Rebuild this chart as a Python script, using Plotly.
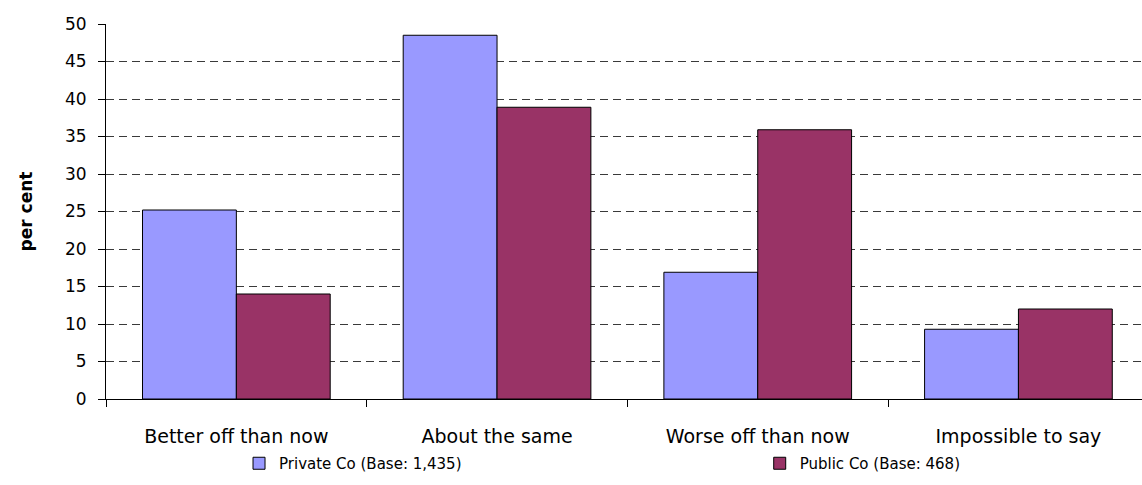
import plotly.graph_objects as go

categories = ["Better off than now", "About the same", "Worse off than now", "Impossible to say"]
private_co = [25.2, 48.5, 16.9, 9.3]
public_co = [14.0, 38.9, 35.9, 12.0]
series_names = ["Private Co (Base: 1,435)", "Public Co (Base: 468)"]
y_ticks = [0, 5, 10, 15, 20, 25, 30, 35, 40, 45, 50]

FONT = "DejaVu Sans"
TXT = "#000000"

fig = go.Figure()
fig.add_trace(go.Bar(
    x=categories, y=private_co, name=series_names[0], legend="legend",
    marker=dict(color="#9999FF", line=dict(color="#000000", width=1)),
))
fig.add_trace(go.Bar(
    x=categories, y=public_co, name=series_names[1], legend="legend2",
    marker=dict(color="#993366", line=dict(color="#000000", width=1)),
))

legend_style = dict(
    orientation="h", xanchor="left", yanchor="top", y=-0.128,
    font=dict(family=FONT, size=15, color=TXT),
    bgcolor="rgba(0,0,0,0)", borderwidth=0,
)

fig.update_layout(
    width=1142, height=485,
    margin=dict(l=106, r=0, t=24, b=86),
    paper_bgcolor="white", plot_bgcolor="white",
    barmode="group", bargap=0.28, bargroupgap=0,
    font=dict(family=FONT, size=17, color=TXT),
    showlegend=True,
    legend=dict(x=0.1284, **legend_style),
    legend2=dict(x=0.631, **legend_style),
)
fig.update_xaxes(
    range=[-0.5, 3.474], showline=True, linecolor="#000000", linewidth=1,
    ticks="outside", tickson="boundaries", ticklen=7, tickcolor="#000000",
    ticklabelstandoff=20,
    showgrid=False, tickfont=dict(family=FONT, size=19, color=TXT),
)
fig.update_yaxes(
    range=[0, 50], tickvals=y_ticks, showline=True, linecolor="#000000", linewidth=1,
    ticks="outside", ticklen=7, tickcolor="#000000", ticklabelstandoff=8,
    showgrid=True, gridcolor="#3a3a3a", gridwidth=1, griddash="8px,5px",
    zeroline=False, tickfont=dict(family=FONT, size=17, color=TXT),
    title=dict(text="<b>per cent</b>", standoff=28, font=dict(family=FONT, size=17, color=TXT)),
)

fig.write_html("out.html")
